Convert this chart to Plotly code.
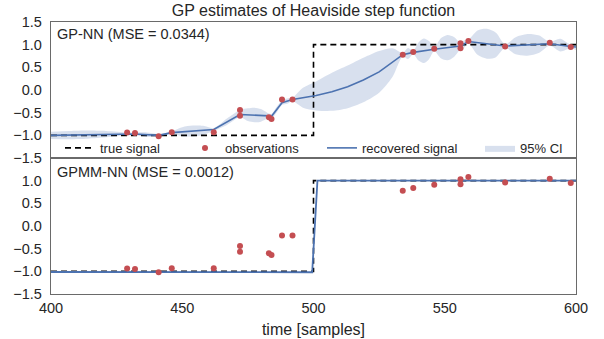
import plotly.graph_objects as go
from plotly.subplots import make_subplots

# ---------------- data ----------------
x_ticks = [400, 450, 500, 550, 600]
y_ticks_top = [-1.5, -1.0, -0.5, 0.0, 0.5, 1.0, 1.5]
y_ticks_bottom = [-1.5, -1.0, -0.5, 0.0, 0.5, 1.0]

true_t = [400, 500, 500, 600]
true_y = [-1.0, -1.0, 1.0, 1.0]

obs_t = [429, 432, 441, 446, 462, 472, 472, 483, 484, 488, 492,
         534, 538, 546, 556, 556, 559, 573, 590, 598]
obs_y = [-0.94, -0.95, -1.02, -0.93, -0.93, -0.44, -0.57, -0.60, -0.64, -0.21, -0.21,
         0.78, 0.84, 0.91, 1.03, 0.92, 1.08, 0.96, 1.04, 0.95]

# GP-NN recovered signal (posterior mean)
gp_t = [400, 429, 432, 441, 446, 462, 472, 483, 484, 488, 492, 501, 507, 513,
        519, 525, 530, 534, 538, 546, 556, 559, 573, 590, 598, 600]
gp_mean = [-1.00, -0.97, -0.97, -1.00, -0.94, -0.87, -0.54, -0.57, -0.58, -0.28, -0.21,
           -0.12, -0.04, 0.07, 0.22, 0.40, 0.60, 0.78, 0.83, 0.90, 0.97, 1.07, 0.97,
           1.02, 0.96, 0.95]

# GP-NN 95% confidence band
ci_t = [400, 407, 414, 421, 429, 432, 436.5, 441, 446, 450, 454, 458, 462, 467,
        472, 475, 477.5, 480, 483, 484, 486, 488, 490, 492, 496, 501, 507, 513,
        519, 525, 530, 534, 536, 538, 540, 542, 544, 546, 548.5, 551, 553.5, 556,
        557.5, 559, 562.5, 566, 569.5, 573, 577, 581.5, 586, 590, 594, 598, 600]
ci_lo = [-1.08, -1.085, -1.075, -1.045, -1.00, -1.00, -1.035, -1.03, -0.97, -1.02,
         -1.025, -0.99, -0.90, -0.77, -0.60, -0.685, -0.71, -0.70, -0.62, -0.63,
         -0.49, -0.33, -0.305, -0.25, -0.39, -0.45, -0.46, -0.40, -0.27, -0.06,
         0.28, 0.74, 0.685, 0.79, 0.65, 0.595, 0.68, 0.86, 0.70, 0.655, 0.73, 0.90,
         0.94, 1.03, 0.775, 0.69, 0.725, 0.93, 0.786, 0.755, 0.82, 0.98, 0.85, 0.92, 0.88]
ci_hi = [-0.92, -0.905, -0.895, -0.905, -0.94, -0.94, -0.935, -0.97, -0.91, -0.82,
         -0.785, -0.79, -0.84, -0.63, -0.44, -0.405, -0.39, -0.42, -0.52, -0.53,
         -0.37, -0.23, -0.185, -0.17, 0.05, 0.19, 0.38, 0.54, 0.71, 0.86,
         0.92, 0.82, 0.925, 0.87, 1.05, 1.135, 1.08, 0.94, 1.14, 1.215, 1.17, 1.04,
         1.10, 1.11, 1.315, 1.35, 1.265, 1.01, 1.166, 1.235, 1.20, 1.06, 1.13, 1.00, 1.02]

# GPMM-NN recovered signal
gpmm_t = [400, 499.5, 501.5, 600]
gpmm_mean = [-1.015, -1.02, 1.00, 1.00]

top_label = "GP-NN (MSE = 0.0344)"
bottom_label = "GPMM-NN (MSE = 0.0012)"

# ---------------- style ----------------
FONT = "Liberation Sans, Arial, sans-serif"
TEXT = "#262626"
BLUE = "#4C72B0"
RED = "#C44E52"
CI_FILL = "rgba(76,114,176,0.22)"
EDGE = "#6a6a6a"

fig = make_subplots(rows=2, cols=1, shared_xaxes=True, vertical_spacing=0)

# top panel
fig.add_trace(go.Scatter(x=ci_t, y=ci_lo, mode="lines",
                         line=dict(width=0, shape="spline", smoothing=0.8),
                         showlegend=False, hoverinfo="skip"), row=1, col=1)
fig.add_trace(go.Scatter(x=ci_t, y=ci_hi, mode="lines", fill="tonexty",
                         fillcolor=CI_FILL,
                         line=dict(width=0, shape="spline", smoothing=0.8),
                         name="95% CI", legend="legend4"), row=1, col=1)
fig.add_trace(go.Scatter(x=true_t, y=true_y, mode="lines",
                         line=dict(color="black", width=1.6, dash="6px,4px"),
                         name="true signal", legend="legend"), row=1, col=1)
fig.add_trace(go.Scatter(x=gp_t, y=gp_mean, mode="lines",
                         line=dict(color=BLUE, width=1.6),
                         name="recovered signal", legend="legend3"), row=1, col=1)
fig.add_trace(go.Scatter(x=obs_t, y=obs_y, mode="markers",
                         marker=dict(color=RED, size=6),
                         name="observations", legend="legend2"), row=1, col=1)

# bottom panel
fig.add_trace(go.Scatter(x=true_t, y=true_y, mode="lines",
                         line=dict(color="black", width=1.6, dash="6px,4px"),
                         showlegend=False), row=2, col=1)
fig.add_trace(go.Scatter(x=gpmm_t, y=gpmm_mean, mode="lines",
                         line=dict(color=BLUE, width=1.8),
                         showlegend=False), row=2, col=1)
fig.add_trace(go.Scatter(x=obs_t, y=obs_y, mode="markers",
                         marker=dict(color=RED, size=6),
                         showlegend=False), row=2, col=1)

axis_common = dict(showgrid=False, zeroline=False, showline=True, mirror=True,
                   linecolor=EDGE, linewidth=1.3, ticks="", automargin=False,
                   tickfont=dict(size=14.5, color=TEXT))

fig.update_xaxes(range=[400, 600], tickvals=x_ticks, **axis_common)
fig.update_xaxes(showticklabels=False, row=1, col=1)
fig.update_xaxes(title=dict(text="time [samples]", font=dict(size=16, color=TEXT),
                            standoff=9), row=2, col=1)
fig.update_yaxes(range=[-1.5, 1.5], tickformat=".1f", ticklabelstandoff=5,
                 **axis_common)
fig.update_yaxes(tickvals=y_ticks_top, row=1, col=1)
fig.update_yaxes(tickvals=y_ticks_bottom, row=2, col=1)

fig.add_annotation(text=top_label, xref="x domain", yref="y domain", x=0.008, y=0.985,
                   xanchor="left", yanchor="top", showarrow=False,
                   font=dict(size=14.5, color=TEXT))
fig.add_annotation(text=bottom_label, xref="x2 domain", yref="y2 domain", x=0.008, y=0.97,
                   xanchor="left", yanchor="top", showarrow=False,
                   font=dict(size=14.5, color=TEXT))

W, L, R = 604, 51, 28
PW = W - L - R


def leg(px):
    return dict(orientation="h", x=(px - L) / PW, xanchor="left", xref="paper",
                y=0.537, yanchor="middle", yref="paper",
                bgcolor="rgba(0,0,0,0)", borderwidth=0,
                font=dict(size=13, color=TEXT, family=FONT))


fig.update_layout(
    width=604, height=339,
    margin=dict(l=L, r=R, t=22, b=45, autoexpand=False),
    paper_bgcolor="white", plot_bgcolor="white",
    font=dict(family=FONT, size=14, color=TEXT),
    title=dict(text="GP estimates of Heaviside step function", x=0.5, xref="paper",
               xanchor="center", y=1 - 10.5 / 339, yref="container", yanchor="middle",
               font=dict(size=16, color=TEXT)),
    legend=leg(60), legend2=leg(185), legend3=leg(322), legend4=leg(480),
)

fig.write_html("out.html")
